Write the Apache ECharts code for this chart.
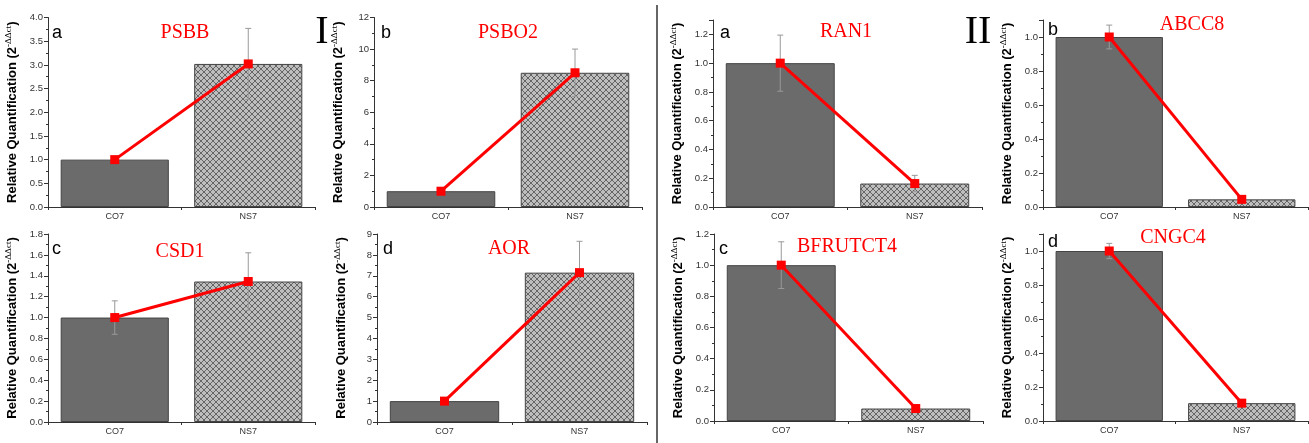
<!DOCTYPE html>
<html><head><meta charset="utf-8">
<script src="https://cdn.jsdelivr.net/npm/echarts@6/dist/echarts.min.js"></script>
<style>html,body{margin:0;padding:0;background:#fff}#c{width:1309px;height:443px}</style>
</head><body><div id="c"></div>
<script>
const panels = ['PSBB','PSBO2','CSD1','AOR','RAN1','ABCC8','BFRUTCT4','CNGC4'];
const panelLetters = ['a','b','c','d','a','b','c','d'];
const categories = ['CO7','NS7'];
const co7Values = [1, 1, 1, 1, 1, 1, 1, 1];
const ns7Values = [3.02, 8.5, 1.345, 7.15, 0.163, 0.045, 0.08, 0.105];
const co7Errors = [0.04, 0.1, 0.16, 0.1, 0.195, 0.07, 0.15, 0.045];
const ns7Errors = [0.75, 1.5, 0.275, 1.5, 0.057, 0.01, 0.01, 0.02];
const yMax = [4, 12, 1.8, 9, 1.3, 1.1, 1.2, 1.1];
const yInterval = [0.5, 2, 0.2, 1, 0.2, 0.2, 0.2, 0.2];

// layout (pixels)
const grids = [
  {left:48, top:17.5, width:267, height:189.5},
  {left:374, top:17.5, width:268, height:189.5},
  {left:48, top:234, width:267, height:188},
  {left:377, top:234, width:270, height:188},
  {left:713, top:20, width:269, height:187},
  {left:1043, top:20, width:265, height:187},
  {left:714, top:234, width:269, height:187},
  {left:1043, top:234, width:265, height:187}
];
const titlePos = [[185,33],[508,33],[180,252],[509,249],[846,32],[1192,25],[847,247],[1173,238]];
const letterPos = [[52,33],[381,33],[52,249],[383,249],[720,33],[1048,30],[719,249],[1048,242]];

const P = 6;
const pc = document.createElement('canvas');
pc.width = P; pc.height = P;
const g = pc.getContext('2d');
g.fillStyle = '#bebebe'; g.fillRect(0,0,P,P);
g.strokeStyle = '#5a5a5a'; g.lineWidth = 0.9;
g.beginPath(); g.moveTo(0,0); g.lineTo(P,P); g.moveTo(P,0); g.lineTo(0,P); g.stroke();

const chart = echarts.init(document.getElementById('c'), null, {renderer:'canvas'});
const option = {
  animation:false,
  grid:[], xAxis:[], yAxis:[], series:[], graphic:[]
};
panels.forEach((name,i)=>{
  const gr = grids[i];
  option.grid.push({left:gr.left, top:gr.top, width:gr.width, height:gr.height, containLabel:false});
  option.xAxis.push({
    type:'category', gridIndex:i, data:categories,
    axisLine:{lineStyle:{color:'#333',width:1}},
    axisTick:{show:true, inside:false, length:3, lineStyle:{color:'#333'}},
    axisLabel:{fontSize:9, color:'#333', fontFamily:'Liberation Sans', margin:5}
  });
  const dec = yInterval[i] < 1 ? 1 : 0;
  const onTick = Math.abs(yMax[i]/yInterval[i] - Math.round(yMax[i]/yInterval[i])) < 1e-9;
  option.yAxis.push({
    type:'value', gridIndex:i, min:0, max:yMax[i], interval:yInterval[i],
    splitLine:{show:false},
    axisLine:{show:true, lineStyle:{color:'#333',width:1}},
    axisTick:{show:true, length:4, lineStyle:{color:'#333'}},
    minorTick:{show:true, splitNumber:2, length:2, lineStyle:{color:'#333'}},
    axisLabel:{fontSize:9.5, color:'#333', fontFamily:'Liberation Sans', margin:5, showMaxLabel:onTick,
      formatter:v=>v.toFixed(dec)},
    name:'{b|Relative Quantification (2}{s|-ΔΔct}{b|)}',
    nameLocation:'middle', nameRotate:90, nameGap:28,
    nameTextStyle:{rich:{
      b:{fontSize:13, fontWeight:'bold', fontFamily:'Liberation Sans', color:'#000'},
      s:{fontSize:9, fontFamily:'Liberation Serif', color:'#000', verticalAlign:'top', padding:[0,0,7,0]}
    }}
  });
  option.series.push({
    type:'bar', xAxisIndex:i, yAxisIndex:i, barWidth:'81%',
    data:[
      {value:co7Values[i], itemStyle:{color:'#6b6b6b', borderColor:'#444', borderWidth:1}},
      {value:ns7Values[i], itemStyle:{color:{image:pc, repeat:'repeat'}, borderColor:'#444', borderWidth:1}}
    ],
    z:2
  });
  option.series.push({
    type:'custom', xAxisIndex:i, yAxisIndex:i, z:3,
    data:[[0, co7Values[i], co7Errors[i]], [1, ns7Values[i], ns7Errors[i]]],
    renderItem:(params, api)=>{
      const x = api.value(0), v = api.value(1), e = api.value(2);
      const hi = api.coord([x, v+e]), lo = api.coord([x, v-e]);
      const st = {stroke:'#999', lineWidth:1};
      return {type:'group', children:[
        {type:'line', shape:{x1:hi[0],y1:hi[1],x2:lo[0],y2:lo[1]}, style:st},
        {type:'line', shape:{x1:hi[0]-3,y1:hi[1],x2:hi[0]+3,y2:hi[1]}, style:st},
        {type:'line', shape:{x1:lo[0]-3,y1:lo[1],x2:lo[0]+3,y2:lo[1]}, style:st}
      ]};
    }
  });
  option.series.push({
    type:'line', xAxisIndex:i, yAxisIndex:i, z:4,
    data:[co7Values[i], ns7Values[i]],
    lineStyle:{color:'#ff0000', width:3},
    itemStyle:{color:'#ff0000'},
    symbol:'rect', symbolSize:9, showSymbol:true
  });
  option.graphic.push({type:'text', x:titlePos[i][0], y:titlePos[i][1], z:10,
    style:{text:name, fill:'#ff0000', font:'20px "Liberation Serif"', align:'center', verticalAlign:'middle'}});
  option.graphic.push({type:'text', x:letterPos[i][0], y:letterPos[i][1], z:10,
    style:{text:panelLetters[i], fill:'#000', font:'18px "Liberation Sans"', align:'left', verticalAlign:'middle'}});
});
option.graphic.push({type:'text', x:322, y:32, z:10,
  style:{text:'I', fill:'#000', font:'40px "Liberation Serif"', align:'center', verticalAlign:'middle'}});
option.graphic.push({type:'text', x:978, y:32, z:10,
  style:{text:'II', fill:'#000', font:'40px "Liberation Serif"', align:'center', verticalAlign:'middle'}});
option.graphic.push({type:'line', shape:{x1:657,y1:5,x2:657,y2:443}, style:{stroke:'#333', lineWidth:1.5}, z:10});
chart.setOption(option);
</script></body></html>
